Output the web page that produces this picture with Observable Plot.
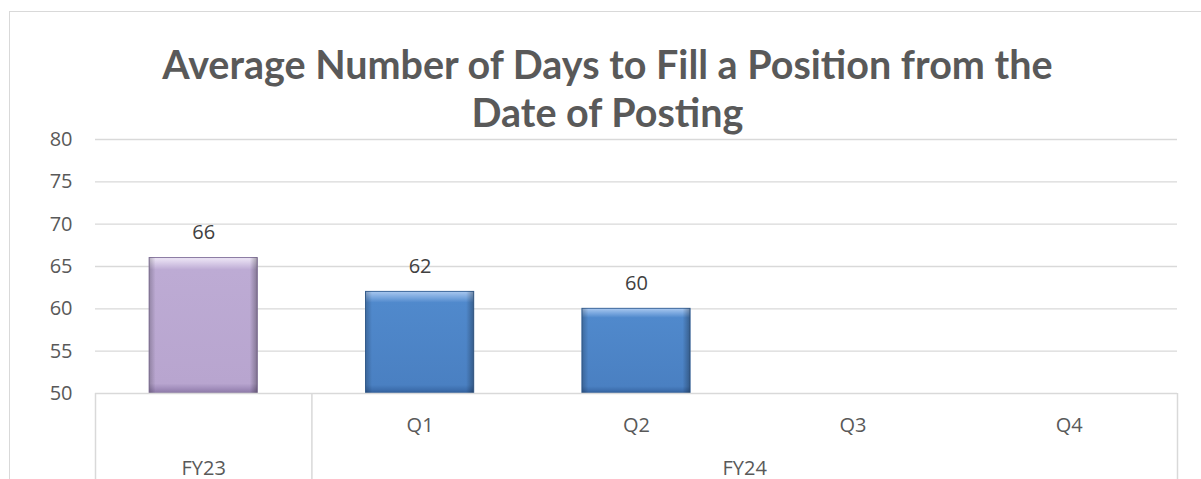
<!DOCTYPE html>
<html>
<head>
<meta charset="utf-8">
<script src="https://cdn.jsdelivr.net/npm/d3@7"></script>
<script src="https://cdn.jsdelivr.net/npm/@observablehq/plot@0.6"></script>
<style>
  html, body { margin: 0; padding: 0; background: #fff; }
  body { width: 1201px; height: 479px; overflow: hidden; position: relative; font-family: "Open Sans", sans-serif; }
  #frame { position: absolute; left: 9px; top: 11px; width: 1400px; height: 700px; border: 1px solid #d9d9d9; pointer-events: none; }
  #title { position: relative; box-sizing: border-box; height: 120px; padding-top: 40px; padding-left: 14px; text-align: center;
           font-family: "Lato", "Open Sans", sans-serif; font-weight: bold; font-size: 39.5px; line-height: 48px; color: #595959; }
  #chart { position: relative; }
</style>
</head>
<body>
<div id="frame"></div>
<div id="title">Average Number of Days to Fill a Position from the<br>Date of Posting</div>
<div id="chart"></div>
<script>
// ---- data ----
const categories = ["", "Q1", "Q2", "Q3", "Q4"];
const groups = ["FY23", "FY24", "FY24", "FY24", "FY24"];
const values = [66, 62, 60, null, null];
const yTicks = [50, 55, 60, 65, 70, 75, 80];

// ---- derived tables ----
const rows = categories.map((label, i) => ({i, label, group: groups[i], value: values[i]}));
const groupNames = [...new Set(groups)];
const groupSpans = groupNames.map(g => {
  const idx = groups.map((d, i) => d === g ? i : -1).filter(i => i >= 0);
  return {group: g, start: d3.min(idx), end: d3.max(idx) + 1};
});
const boundaries = [...new Set(groupSpans.flatMap(s => [s.start, s.end]))];
const bars = rows.filter(d => d.value != null);
const yMin = yTicks[0], yMax = yTicks[yTicks.length - 1];

const font = "'Open Sans', sans-serif";
const chart = Plot.plot({
  width: 1201,
  height: 359,
  marginTop: 19,
  marginBottom: 86,
  marginLeft: 95,
  marginRight: 24,
  style: {fontFamily: font, fontSize: "20px", color: "#595959", background: "transparent", overflow: "visible"},
  x: {type: "linear", domain: [0, categories.length], axis: null},
  y: {domain: [yMin, yMax], axis: null},
  marks: [
    Plot.ruleY(yTicks.slice(1), {stroke: "#d9d9d9", strokeWidth: 1.3}),
    Plot.axisY({ticks: yTicks, tickSize: 0, tickPadding: 23, fontSize: 20, fill: "#595959", label: null}),
    // bars: base with vertical gradient
    Plot.rectY(bars.filter(d => d.group === groupNames[0]), {x1: d => d.i + 0.25, x2: d => d.i + 0.75, y1: yMin, y2: "value", fill: "url(#purpleV)", stroke: "#8a7aa2", strokeWidth: 1}),
    Plot.rectY(bars.filter(d => d.group !== groupNames[0]), {x1: d => d.i + 0.25, x2: d => d.i + 0.75, y1: yMin, y2: "value", fill: "url(#blueV)", stroke: "#3b679c", strokeWidth: 1}),
    // bevel shading overlay
    Plot.rectY(bars, {x1: d => d.i + 0.25, x2: d => d.i + 0.75, y1: yMin, y2: "value", fill: "url(#edgeH)"}),
    // axis box
    Plot.ruleY([yMin], {stroke: "#d9d9d9", strokeWidth: 1.5}),
    Plot.ruleX(boundaries, {x: d => d, y1: yMin, y2: yMin, insetBottom: -100, stroke: "#d9d9d9", strokeWidth: 1.5}),
    // value labels
    Plot.text(bars, {x: d => d.i + 0.5, y: "value", text: d => String(d.value), dy: -25, fontSize: 20, fill: "#404040"}),
    // inner category labels
    Plot.text(rows, {x: d => d.i + 0.5, y: yMin, text: "label", dy: 32, fontSize: 20, fill: "#595959"}),
    // outer group labels
    Plot.text(groupSpans, {x: d => (d.start + d.end) / 2, y: yMin, text: "group", dy: 75, fontSize: 20, fill: "#595959"})
  ]
});

d3.select(chart).insert("defs", ":first-child").html(`
  <linearGradient id="purpleV" x1="0" y1="0" x2="0" y2="1">
    <stop offset="0" stop-color="#efe8f7"/>
    <stop offset="0.05" stop-color="#d3c6e4"/>
    <stop offset="0.09" stop-color="#bdabd4"/>
    <stop offset="0.93" stop-color="#b8a5cf"/>
    <stop offset="0.97" stop-color="#a08cba"/>
    <stop offset="1" stop-color="#8c79a6"/>
  </linearGradient>
  <linearGradient id="blueV" x1="0" y1="0" x2="0" y2="1">
    <stop offset="0" stop-color="#a9c8ef"/>
    <stop offset="0.06" stop-color="#78a6de"/>
    <stop offset="0.11" stop-color="#5089cc"/>
    <stop offset="0.92" stop-color="#4a80c2"/>
    <stop offset="0.97" stop-color="#3d6ead"/>
    <stop offset="1" stop-color="#305d97"/>
  </linearGradient>
  <linearGradient id="edgeH" x1="0" y1="0" x2="1" y2="0">
    <stop offset="0" stop-color="#000" stop-opacity="0.22"/>
    <stop offset="0.06" stop-color="#000" stop-opacity="0.0"/>
    <stop offset="0.93" stop-color="#000" stop-opacity="0.0"/>
    <stop offset="1" stop-color="#000" stop-opacity="0.3"/>
  </linearGradient>
`);

document.getElementById("chart").appendChild(chart);
</script>
</body>
</html>
